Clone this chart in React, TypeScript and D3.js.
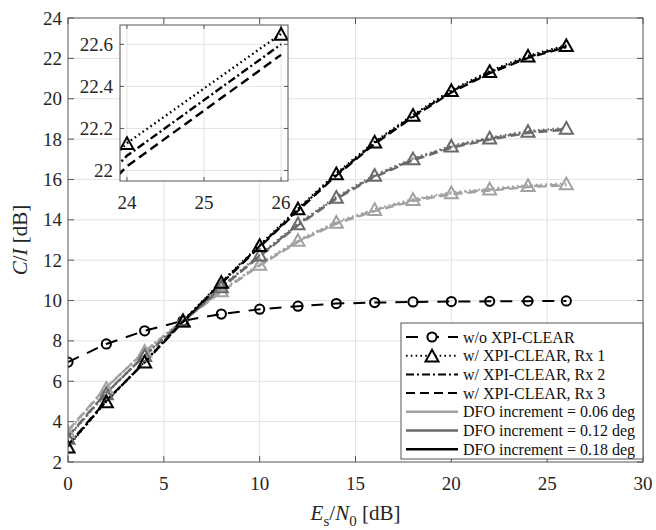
import React from "react";
import * as d3 from "d3";

const snr = [0, 2, 4, 6, 8, 10, 12, 14, 16, 18, 20, 22, 24, 26];
const woXpi = [6.95, 7.85, 8.5, 9.0, 9.33, 9.57, 9.72, 9.85, 9.9, 9.93, 9.95, 9.96, 9.97, 9.98];

// DFO 0.18 deg (black)
const blackRx1 = [2.76, 5.0, 6.97, 9.0, 10.92, 12.75, 14.56, 16.3, 17.87, 19.2, 20.42, 21.37, 22.13, 22.65];
const blackRx2 = [2.8, 5.02, 6.95, 8.97, 10.88, 12.7, 14.5, 16.24, 17.81, 19.14, 20.36, 21.31, 22.07, 22.6];
const blackRx3 = [2.84, 5.05, 6.93, 8.94, 10.84, 12.65, 14.45, 16.19, 17.76, 19.09, 20.31, 21.26, 22.02, 22.55];
// DFO 0.12 deg (dark gray)
const darkRx1 = [3.2, 5.4, 7.3, 9.0, 10.7, 12.27, 13.82, 15.14, 16.22, 17.04, 17.67, 18.07, 18.4, 18.56];
const darkRx2 = [3.24, 5.42, 7.28, 8.97, 10.66, 12.22, 13.77, 15.09, 16.17, 16.99, 17.62, 18.02, 18.35, 18.51];
const darkRx3 = [3.28, 5.45, 7.26, 8.94, 10.62, 12.18, 13.72, 15.04, 16.12, 16.94, 17.57, 17.97, 18.3, 18.46];
// DFO 0.06 deg (light gray)
const lightRx1 = [3.5, 5.67, 7.5, 9.05, 10.5, 11.82, 13.0, 13.9, 14.53, 15.03, 15.36, 15.55, 15.72, 15.8];
const lightRx2 = [3.54, 5.69, 7.48, 9.02, 10.46, 11.77, 12.95, 13.85, 14.48, 14.98, 15.31, 15.5, 15.67, 15.75];
const lightRx3 = [3.58, 5.72, 7.46, 8.99, 10.42, 11.73, 12.9, 13.8, 14.43, 14.93, 15.26, 15.45, 15.62, 15.7];

const xTicks = [0, 5, 10, 15, 20, 25, 30];
const yTicks = [2, 4, 6, 8, 10, 12, 14, 16, 18, 20, 22, 24];
const insetXTicks = [24, 25, 26];
const insetYTicks = [22, 22.2, 22.4, 22.6];

const legendLabels = [
  "w/o XPI-CLEAR",
  "w/ XPI-CLEAR, Rx 1",
  "w/ XPI-CLEAR, Rx 2",
  "w/ XPI-CLEAR, Rx 3",
  "DFO increment = 0.06 deg",
  "DFO increment = 0.12 deg",
  "DFO increment = 0.18 deg",
];

const C_BLACK = "#000000";
const C_DARK = "#6a6a6a";
const C_LIGHT = "#a2a2a2";
const AXIS = "#555555";
const GRID = "#e3e3e3";
const FONT = "'Liberation Serif', 'DejaVu Serif', serif";

const DOT = "1.6 3.2";
const DASHDOT = "8 3 2 3";
const DASH = "9 5";

type Series = { ys: number[]; color: string; dash: string; marker: boolean };

const series: Series[] = [
  { ys: lightRx3, color: C_LIGHT, dash: DASH, marker: false },
  { ys: lightRx2, color: C_LIGHT, dash: DASHDOT, marker: false },
  { ys: lightRx1, color: C_LIGHT, dash: DOT, marker: true },
  { ys: darkRx3, color: C_DARK, dash: DASH, marker: false },
  { ys: darkRx2, color: C_DARK, dash: DASHDOT, marker: false },
  { ys: darkRx1, color: C_DARK, dash: DOT, marker: true },
  { ys: blackRx3, color: C_BLACK, dash: DASH, marker: false },
  { ys: blackRx2, color: C_BLACK, dash: DASHDOT, marker: false },
  { ys: blackRx1, color: C_BLACK, dash: DOT, marker: true },
];

function tri(cx: number, cy: number, s: number) {
  const h = s * 0.9;
  return `M${cx},${cy - h / 2}L${cx + s / 2},${cy + h / 2}L${cx - s / 2},${cy + h / 2}Z`;
}

export default function App() {
  const W = 656, H = 530;
  const L = 68, R = 643, T = 18, B = 462;
  const x = d3.scaleLinear().domain([0, 30]).range([L, R]);
  const y = d3.scaleLinear().domain([2, 24]).range([B, T]);

  const IL = 120, IR = 288, IT = 25, IB = 181;
  const ix = d3.scaleLinear().domain([23.91, 26.09]).range([IL, IR]);
  const iy = d3.scaleLinear().domain([21.95, 22.692]).range([IB, IT]);

  const line = (sx: any, sy: any) =>
    d3.line<number>().x((_, i) => sx(snr[i])).y((v) => sy(v));

  const mainLine = line(x, y);
  const insetLine = line(ix, iy);

  const tickLen = 6;
  const fs = 19;

  const legX = 401, legY = 323, legW = 242, legH = 136;
  const rowY = (i: number) => legY + 14 + i * 18.7;
  const sampX1 = 406, sampX2 = 458, textX = 463;

  const legendStyles = [
    { color: C_BLACK, dash: "12 9", marker: "circle", width: 2 },
    { color: C_BLACK, dash: DOT, marker: "tri", width: 2 },
    { color: C_BLACK, dash: DASHDOT, marker: "", width: 2 },
    { color: C_BLACK, dash: DASH, marker: "", width: 2 },
    { color: C_LIGHT, dash: "", marker: "", width: 2.5 },
    { color: C_DARK, dash: "", marker: "", width: 2.5 },
    { color: C_BLACK, dash: "", marker: "", width: 2.5 },
  ];

  return (
    <svg
      width={W}
      height={H}
      style={{ position: "absolute", left: 0, top: 0, background: "#fff", fontFamily: FONT }}
    >
      <defs>
        <clipPath id="mainClip">
          <rect x={L} y={T} width={R - L} height={B - T} />
        </clipPath>
        <clipPath id="insetClip">
          <rect x={IL} y={IT} width={IR - IL} height={IB - IT} />
        </clipPath>
      </defs>
      <rect x={0} y={0} width={W} height={H} fill="#fff" />
      {/* main grid */}
      {xTicks.slice(1, -1).map((t) => (
        <line key={"gx" + t} x1={x(t)} x2={x(t)} y1={T} y2={B} stroke={GRID} strokeWidth={1} />
      ))}
      {yTicks.slice(1, -1).map((t) => (
        <line key={"gy" + t} x1={L} x2={R} y1={y(t)} y2={y(t)} stroke={GRID} strokeWidth={1} />
      ))}
      {/* ticks */}
      {xTicks.map((t) => (
        <g key={"tx" + t}>
          <line x1={x(t)} x2={x(t)} y1={B} y2={B - tickLen} stroke={AXIS} />
          <line x1={x(t)} x2={x(t)} y1={T} y2={T + tickLen} stroke={AXIS} />
          <text x={x(t)} y={B + 28} fontSize={fs} textAnchor="middle" fill="#262626">
            {t}
          </text>
        </g>
      ))}
      {yTicks.map((t) => (
        <g key={"ty" + t}>
          <line x1={L} x2={L + tickLen} y1={y(t)} y2={y(t)} stroke={AXIS} />
          <line x1={R} x2={R - tickLen} y1={y(t)} y2={y(t)} stroke={AXIS} />
          <text x={L - 6} y={y(t) + 6.5} fontSize={fs} textAnchor="end" fill="#262626">
            {t}
          </text>
        </g>
      ))}

      {/* data */}
      <g clipPath="url(#mainClip)">
        <path d={mainLine(woXpi) || ""} fill="none" stroke={C_BLACK} strokeWidth={2} strokeDasharray="12 9" />
        {series.map((s, k) => (
          <path key={"s" + k} d={mainLine(s.ys) || ""} fill="none" stroke={s.color} strokeWidth={2.2} strokeDasharray={s.dash} />
        ))}
        {woXpi.map((v, i) => (
          <circle key={"c" + i} cx={x(snr[i])} cy={y(v)} r={4.6} fill="none" stroke={C_BLACK} strokeWidth={2} />
        ))}
        {series.filter((s) => s.marker).map((s, k) =>
          s.ys.map((v, i) => (
            <path key={"m" + k + "_" + i} d={tri(x(snr[i]), y(v), 13)} fill="none" stroke={s.color} strokeWidth={2} strokeLinejoin="miter" />
          ))
        )}
      </g>

      {/* main box */}
      <rect x={L} y={T} width={R - L} height={B - T} fill="none" stroke={AXIS} strokeWidth={1} />

      {/* axis labels */}
      <text
        transform={`translate(27, ${(T + B) / 2}) rotate(-90)`}
        textAnchor="middle"
        fontSize={21}
        fill="#262626"
      >
        <tspan fontStyle="italic">C</tspan>/<tspan fontStyle="italic">I</tspan> [dB]
      </text>
      <text x={(L + R) / 2} y={520} textAnchor="middle" fontSize={21} fill="#262626">
        <tspan fontStyle="italic">E</tspan>
        <tspan fontSize={15} dy={6}>s</tspan>
        <tspan dy={-6}>/</tspan>
        <tspan fontStyle="italic">N</tspan>
        <tspan fontSize={15} dy={6}>0</tspan>
        <tspan dy={-6}> [dB]</tspan>
      </text>

      {/* inset */}
      <rect x={IL} y={IT} width={IR - IL} height={IB - IT} fill="#fff" />
      {insetXTicks.map((t) => (
        <line key={"igx" + t} x1={ix(t)} x2={ix(t)} y1={IT} y2={IB} stroke={GRID} />
      ))}
      {insetYTicks.map((t) => (
        <line key={"igy" + t} x1={IL} x2={IR} y1={iy(t)} y2={iy(t)} stroke={GRID} />
      ))}
      {insetXTicks.map((t) => (
        <g key={"itx" + t}>
          <line x1={ix(t)} x2={ix(t)} y1={IB} y2={IB - 4} stroke={AXIS} />
          <line x1={ix(t)} x2={ix(t)} y1={IT} y2={IT + 4} stroke={AXIS} />
          <text x={ix(t)} y={IB + 28} fontSize={fs} textAnchor="middle" fill="#262626">
            {t}
          </text>
        </g>
      ))}
      {insetYTicks.map((t) => (
        <g key={"ity" + t}>
          <line x1={IL} x2={IL + 4} y1={iy(t)} y2={iy(t)} stroke={AXIS} />
          <line x1={IR} x2={IR - 4} y1={iy(t)} y2={iy(t)} stroke={AXIS} />
          <text x={IL - 7} y={iy(t) + 6.5} fontSize={fs} textAnchor="end" fill="#262626">
            {d3.format(t === 22 ? "d" : ".1f")(t)}
          </text>
        </g>
      ))}
      <g clipPath="url(#insetClip)">
        {[
          { ys: blackRx3, dash: DASH },
          { ys: blackRx2, dash: DASHDOT },
          { ys: blackRx1, dash: DOT },
        ].map((s, k) => (
          <path key={"is" + k} d={insetLine(s.ys) || ""} fill="none" stroke={C_BLACK} strokeWidth={2.4} strokeDasharray={s.dash} />
        ))}
        {blackRx1.map((v, i) => (
          <path key={"it" + i} d={tri(ix(snr[i]), iy(v), 13)} fill="none" stroke={C_BLACK} strokeWidth={2} />
        ))}
      </g>
      <rect x={IL} y={IT} width={IR - IL} height={IB - IT} fill="none" stroke={AXIS} />

      {/* legend */}
      <rect x={legX} y={legY} width={legW} height={legH} fill="#fff" stroke={AXIS} />
      {legendLabels.map((lab, i) => {
        const st = legendStyles[i];
        const cy = rowY(i);
        const mx = (sampX1 + sampX2) / 2;
        return (
          <g key={"lg" + i}>
            <line x1={sampX1} x2={sampX2} y1={cy} y2={cy} stroke={st.color} strokeWidth={st.width} strokeDasharray={st.dash} />
            {st.marker === "circle" && (
              <circle cx={mx} cy={cy} r={4.6} fill="#fff" stroke={C_BLACK} strokeWidth={2} />
            )}
            {st.marker === "tri" && (
              <path d={tri(mx, cy, 13)} fill="#fff" stroke={C_BLACK} strokeWidth={2} />
            )}
            <text x={textX} y={cy + 5.5} fontSize={16} fill="#111">
              {lab}
            </text>
          </g>
        );
      })}
    </svg>
  );
}
